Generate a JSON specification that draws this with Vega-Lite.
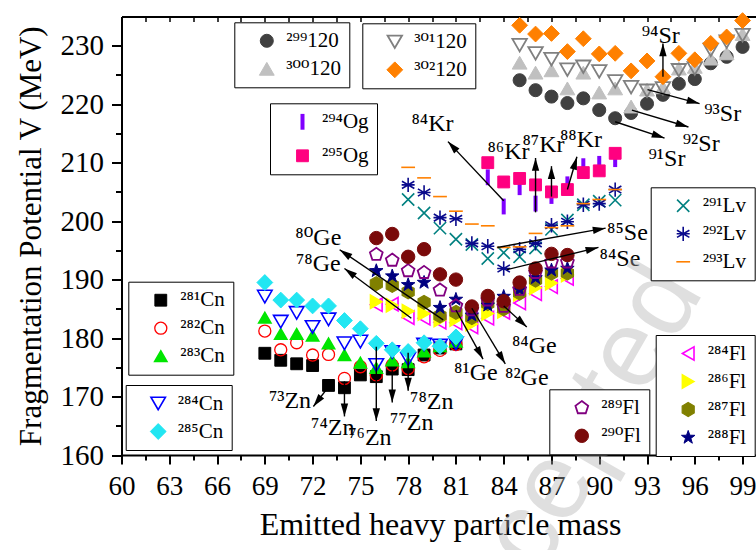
{
  "$schema": "https://vega.github.io/schema/vega-lite/v6.json",
  "width": 637,
  "height": 438.5,
  "autosize": {"type": "none"},
  "padding": {"left": 121.5, "top": 16.5, "right": 0, "bottom": 95},
  "background": "white",
  "config": {
    "font": "Liberation Serif, DejaVu Serif",
    "view": {"stroke": null},
    "legend": {
      "strokeColor": "black",
      "fillColor": "white",
      "padding": 8,
      "labelFont": "Liberation Serif, DejaVu Serif",
      "labelFontSize": 21,
      "labelColor": "black",
      "rowPadding": 6,
      "symbolOffset": 14,
      "labelOffset": 9,
      "labelLimit": 200
    }
  },
  "datasets": {
    "pts": [
      {"g":"E","s":"²⁸¹Cn","m":69,"v":177.4},{"g":"E","s":"²⁸¹Cn","m":70,"v":176.2},{"g":"E","s":"²⁸¹Cn","m":71,"v":175.6},{"g":"E","s":"²⁸¹Cn","m":72,"v":175.3},{"g":"E","s":"²⁸¹Cn","m":73,"v":171.9},{"g":"E","s":"²⁸¹Cn","m":74,"v":171.5},{"g":"E","s":"²⁸¹Cn","m":75,"v":173.7},{"g":"E","s":"²⁸¹Cn","m":76,"v":173.4},{"g":"E","s":"²⁸¹Cn","m":77,"v":174.7},{"g":"E","s":"²⁸¹Cn","m":78,"v":174.6},{"g":"E","s":"²⁸¹Cn","m":79,"v":177.1},{"g":"E","s":"²⁸¹Cn","m":80,"v":178.3},{"g":"E","s":"²⁸¹Cn","m":81,"v":179.0},
      {"g":"E","s":"²⁸²Cn","m":69,"v":181.2},{"g":"E","s":"²⁸²Cn","m":70,"v":178.0},{"g":"E","s":"²⁸²Cn","m":71,"v":179.2},{"g":"E","s":"²⁸²Cn","m":72,"v":177.1},{"g":"E","s":"²⁸²Cn","m":73,"v":177.2},{"g":"E","s":"²⁸²Cn","m":74,"v":173.1},{"g":"E","s":"²⁸²Cn","m":75,"v":175.1},{"g":"E","s":"²⁸²Cn","m":76,"v":173.7},{"g":"E","s":"²⁸²Cn","m":77,"v":175.4},{"g":"E","s":"²⁸²Cn","m":78,"v":174.8},{"g":"E","s":"²⁸²Cn","m":79,"v":176.8},{"g":"E","s":"²⁸²Cn","m":80,"v":177.9},{"g":"E","s":"²⁸²Cn","m":81,"v":178.9},
      {"g":"E","s":"²⁸³Cn","m":69,"v":183.5},{"g":"E","s":"²⁸³Cn","m":70,"v":180.7},{"g":"E","s":"²⁸³Cn","m":71,"v":180.7},{"g":"E","s":"²⁸³Cn","m":72,"v":180.4},{"g":"E","s":"²⁸³Cn","m":73,"v":179.1},{"g":"E","s":"²⁸³Cn","m":74,"v":177.1},{"g":"E","s":"²⁸³Cn","m":75,"v":175.8},{"g":"E","s":"²⁸³Cn","m":76,"v":174.9},{"g":"E","s":"²⁸³Cn","m":77,"v":176.2},{"g":"E","s":"²⁸³Cn","m":78,"v":175.9},{"g":"E","s":"²⁸³Cn","m":79,"v":177.7},{"g":"E","s":"²⁸³Cn","m":80,"v":178.6},{"g":"E","s":"²⁸³Cn","m":81,"v":179.4},
      {"g":"F","s":"²⁸⁴Cn","m":69,"v":187.1},{"g":"F","s":"²⁸⁴Cn","m":70,"v":182.8},{"g":"F","s":"²⁸⁴Cn","m":71,"v":184.3},{"g":"F","s":"²⁸⁴Cn","m":72,"v":181.9},{"g":"F","s":"²⁸⁴Cn","m":73,"v":183.2},{"g":"F","s":"²⁸⁴Cn","m":74,"v":179.1},{"g":"F","s":"²⁸⁴Cn","m":75,"v":179.4},{"g":"F","s":"²⁸⁴Cn","m":76,"v":175.4},{"g":"F","s":"²⁸⁴Cn","m":77,"v":177.6},{"g":"F","s":"²⁸⁴Cn","m":78,"v":176.4},{"g":"F","s":"²⁸⁴Cn","m":79,"v":178.9},{"g":"F","s":"²⁸⁴Cn","m":80,"v":178.7},{"g":"F","s":"²⁸⁴Cn","m":81,"v":179.1},
      {"g":"F","s":"²⁸⁵Cn","m":69,"v":189.5},{"g":"F","s":"²⁸⁵Cn","m":70,"v":186.5},{"g":"F","s":"²⁸⁵Cn","m":71,"v":186.5},{"g":"F","s":"²⁸⁵Cn","m":72,"v":185.5},{"g":"F","s":"²⁸⁵Cn","m":73,"v":185.5},{"g":"F","s":"²⁸⁵Cn","m":74,"v":183.0},{"g":"F","s":"²⁸⁵Cn","m":75,"v":181.6},{"g":"F","s":"²⁸⁵Cn","m":76,"v":179.1},{"g":"F","s":"²⁸⁵Cn","m":77,"v":178.0},{"g":"F","s":"²⁸⁵Cn","m":78,"v":177.7},{"g":"F","s":"²⁸⁵Cn","m":79,"v":179.2},{"g":"F","s":"²⁸⁵Cn","m":80,"v":178.6},{"g":"F","s":"²⁸⁵Cn","m":81,"v":180.2},
      {"g":"H","s":"²⁸⁴Fl","m":76,"v":185.7},{"g":"H","s":"²⁸⁴Fl","m":77,"v":185.8},{"g":"H","s":"²⁸⁴Fl","m":78,"v":183.5},{"g":"H","s":"²⁸⁴Fl","m":79,"v":183.4},{"g":"H","s":"²⁸⁴Fl","m":80,"v":182.7},{"g":"H","s":"²⁸⁴Fl","m":81,"v":182.6},{"g":"H","s":"²⁸⁴Fl","m":82,"v":181.9},{"g":"H","s":"²⁸⁴Fl","m":83,"v":183.4},{"g":"H","s":"²⁸⁴Fl","m":84,"v":184.4},{"g":"H","s":"²⁸⁴Fl","m":85,"v":186.0},{"g":"H","s":"²⁸⁴Fl","m":86,"v":187.6},{"g":"H","s":"²⁸⁴Fl","m":87,"v":188.8},{"g":"H","s":"²⁸⁴Fl","m":88,"v":190.2},
      {"g":"H","s":"²⁸⁶Fl","m":76,"v":186.2},{"g":"H","s":"²⁸⁶Fl","m":77,"v":185.6},{"g":"H","s":"²⁸⁶Fl","m":78,"v":184.6},{"g":"H","s":"²⁸⁶Fl","m":79,"v":184.2},{"g":"H","s":"²⁸⁶Fl","m":80,"v":183.1},{"g":"H","s":"²⁸⁶Fl","m":81,"v":183.2},{"g":"H","s":"²⁸⁶Fl","m":82,"v":182.4},{"g":"H","s":"²⁸⁶Fl","m":83,"v":184.2},{"g":"H","s":"²⁸⁶Fl","m":84,"v":184.6},{"g":"H","s":"²⁸⁶Fl","m":85,"v":187.5},{"g":"H","s":"²⁸⁶Fl","m":86,"v":188.6},{"g":"H","s":"²⁸⁶Fl","m":87,"v":189.4},{"g":"H","s":"²⁸⁶Fl","m":88,"v":190.8},
      {"g":"H","s":"²⁸⁷Fl","m":76,"v":189.3},{"g":"H","s":"²⁸⁷Fl","m":77,"v":189.0},{"g":"H","s":"²⁸⁷Fl","m":78,"v":187.9},{"g":"H","s":"²⁸⁷Fl","m":79,"v":186.1},{"g":"H","s":"²⁸⁷Fl","m":80,"v":183.8},{"g":"H","s":"²⁸⁷Fl","m":81,"v":184.4},{"g":"H","s":"²⁸⁷Fl","m":82,"v":183.5},{"g":"H","s":"²⁸⁷Fl","m":83,"v":185.9},{"g":"H","s":"²⁸⁷Fl","m":84,"v":185.0},{"g":"H","s":"²⁸⁷Fl","m":85,"v":187.7},{"g":"H","s":"²⁸⁷Fl","m":86,"v":189.9},{"g":"H","s":"²⁸⁷Fl","m":87,"v":191.1},{"g":"H","s":"²⁸⁷Fl","m":88,"v":191.1},
      {"g":"H","s":"²⁸⁸Fl","m":76,"v":191.5},{"g":"H","s":"²⁸⁸Fl","m":77,"v":190.6},{"g":"H","s":"²⁸⁸Fl","m":78,"v":189.1},{"g":"H","s":"²⁸⁸Fl","m":79,"v":189.5},{"g":"H","s":"²⁸⁸Fl","m":80,"v":185.2},{"g":"H","s":"²⁸⁸Fl","m":81,"v":186.6},{"g":"H","s":"²⁸⁸Fl","m":82,"v":183.9},{"g":"H","s":"²⁸⁸Fl","m":83,"v":185.6},{"g":"H","s":"²⁸⁸Fl","m":84,"v":187.1},{"g":"H","s":"²⁸⁸Fl","m":85,"v":188.3},{"g":"H","s":"²⁸⁸Fl","m":86,"v":190.3},{"g":"H","s":"²⁸⁸Fl","m":87,"v":191.6},{"g":"H","s":"²⁸⁸Fl","m":88,"v":191.9},
      {"g":"G","s":"²⁸⁹Fl","m":76,"v":194.3},{"g":"G","s":"²⁸⁹Fl","m":77,"v":193.3},{"g":"G","s":"²⁸⁹Fl","m":78,"v":191.5},{"g":"G","s":"²⁸⁹Fl","m":79,"v":191.2},{"g":"G","s":"²⁸⁹Fl","m":80,"v":188.2},{"g":"G","s":"²⁸⁹Fl","m":81,"v":185.5},{"g":"G","s":"²⁸⁹Fl","m":82,"v":184.8},{"g":"G","s":"²⁸⁹Fl","m":83,"v":186.5},{"g":"G","s":"²⁸⁹Fl","m":84,"v":185.4},{"g":"G","s":"²⁸⁹Fl","m":85,"v":188.3},{"g":"G","s":"²⁸⁹Fl","m":86,"v":191.2},{"g":"G","s":"²⁸⁹Fl","m":87,"v":193.0},{"g":"G","s":"²⁸⁹Fl","m":88,"v":193.0},
      {"g":"G","s":"²⁹⁰Fl","m":76,"v":197.1},{"g":"G","s":"²⁹⁰Fl","m":77,"v":197.8},{"g":"G","s":"²⁹⁰Fl","m":78,"v":193.9},{"g":"G","s":"²⁹⁰Fl","m":79,"v":195.2},{"g":"G","s":"²⁹⁰Fl","m":80,"v":190.9},{"g":"G","s":"²⁹⁰Fl","m":81,"v":190.0},{"g":"G","s":"²⁹⁰Fl","m":82,"v":185.4},{"g":"G","s":"²⁹⁰Fl","m":83,"v":187.2},{"g":"G","s":"²⁹⁰Fl","m":84,"v":186.3},{"g":"G","s":"²⁹⁰Fl","m":85,"v":189.5},{"g":"G","s":"²⁹⁰Fl","m":86,"v":191.9},{"g":"G","s":"²⁹⁰Fl","m":87,"v":194.4},{"g":"G","s":"²⁹⁰Fl","m":88,"v":194.2},
      {"g":"D","s":"²⁹¹Lv","m":78,"v":203.7},{"g":"D","s":"²⁹¹Lv","m":79,"v":201.4},{"g":"D","s":"²⁹¹Lv","m":80,"v":198.8},{"g":"D","s":"²⁹¹Lv","m":81,"v":196.9},{"g":"D","s":"²⁹¹Lv","m":82,"v":196.0},{"g":"D","s":"²⁹¹Lv","m":83,"v":193.6},{"g":"D","s":"²⁹¹Lv","m":84,"v":194.6},{"g":"D","s":"²⁹¹Lv","m":85,"v":193.9},{"g":"D","s":"²⁹¹Lv","m":86,"v":195.4},{"g":"D","s":"²⁹¹Lv","m":87,"v":198.6},{"g":"D","s":"²⁹¹Lv","m":88,"v":200.2},{"g":"D","s":"²⁹¹Lv","m":89,"v":202.8},{"g":"D","s":"²⁹¹Lv","m":90,"v":203.4},{"g":"D","s":"²⁹¹Lv","m":91,"v":203.6},
      {"g":"D","s":"²⁹²Lv","m":78,"v":206.2},{"g":"D","s":"²⁹²Lv","m":79,"v":204.9},{"g":"D","s":"²⁹²Lv","m":80,"v":200.6},{"g":"D","s":"²⁹²Lv","m":81,"v":200.4},{"g":"D","s":"²⁹²Lv","m":82,"v":196.2},{"g":"D","s":"²⁹²Lv","m":83,"v":195.7},{"g":"D","s":"²⁹²Lv","m":84,"v":191.9},{"g":"D","s":"²⁹²Lv","m":85,"v":195.2},{"g":"D","s":"²⁹²Lv","m":86,"v":196.2},{"g":"D","s":"²⁹²Lv","m":87,"v":199.3},{"g":"D","s":"²⁹²Lv","m":88,"v":199.9},{"g":"D","s":"²⁹²Lv","m":89,"v":202.8},{"g":"D","s":"²⁹²Lv","m":90,"v":203.0},{"g":"D","s":"²⁹²Lv","m":91,"v":205.4},
      {"g":"D","s":"²⁹³Lv","m":78,"v":209.2},{"g":"D","s":"²⁹³Lv","m":79,"v":207.4},{"g":"D","s":"²⁹³Lv","m":80,"v":204.2},{"g":"D","s":"²⁹³Lv","m":81,"v":201.7},{"g":"D","s":"²⁹³Lv","m":82,"v":199.5},{"g":"D","s":"²⁹³Lv","m":83,"v":199.2},{"g":"D","s":"²⁹³Lv","m":84,"v":195.5},{"g":"D","s":"²⁹³Lv","m":85,"v":195.6},{"g":"D","s":"²⁹³Lv","m":86,"v":197.9},{"g":"D","s":"²⁹³Lv","m":87,"v":198.9},{"g":"D","s":"²⁹³Lv","m":88,"v":199.2},{"g":"D","s":"²⁹³Lv","m":89,"v":203.0},{"g":"D","s":"²⁹³Lv","m":90,"v":203.7},{"g":"D","s":"²⁹³Lv","m":91,"v":205.4},
      {"g":"C","s":"²⁹⁴Og","m":83,"v":207.5},{"g":"C","s":"²⁹⁴Og","m":84,"v":202.5},{"g":"C","s":"²⁹⁴Og","m":85,"v":205.8},{"g":"C","s":"²⁹⁴Og","m":86,"v":203.0},{"g":"C","s":"²⁹⁴Og","m":87,"v":204.3},{"g":"C","s":"²⁹⁴Og","m":88,"v":206.3},{"g":"C","s":"²⁹⁴Og","m":89,"v":209.4},{"g":"C","s":"²⁹⁴Og","m":90,"v":209.8},{"g":"C","s":"²⁹⁴Og","m":91,"v":210.6},
      {"g":"C","s":"²⁹⁵Og","m":83,"v":210.0},{"g":"C","s":"²⁹⁵Og","m":84,"v":206.7},{"g":"C","s":"²⁹⁵Og","m":85,"v":207.3},{"g":"C","s":"²⁹⁵Og","m":86,"v":206.2},{"g":"C","s":"²⁹⁵Og","m":87,"v":205.0},{"g":"C","s":"²⁹⁵Og","m":88,"v":205.4},{"g":"C","s":"²⁹⁵Og","m":89,"v":208.3},{"g":"C","s":"²⁹⁵Og","m":90,"v":208.6},{"g":"C","s":"²⁹⁵Og","m":91,"v":211.6},
      {"g":"A","s":"²⁹⁹120","m":85,"v":224.1},{"g":"A","s":"²⁹⁹120","m":86,"v":222.4},{"g":"A","s":"²⁹⁹120","m":87,"v":221.3},{"g":"A","s":"²⁹⁹120","m":88,"v":220.2},{"g":"A","s":"²⁹⁹120","m":89,"v":221.0},{"g":"A","s":"²⁹⁹120","m":90,"v":219.0},{"g":"A","s":"²⁹⁹120","m":91,"v":217.6},{"g":"A","s":"²⁹⁹120","m":92,"v":218.5},{"g":"A","s":"²⁹⁹120","m":93,"v":220.1},{"g":"A","s":"²⁹⁹120","m":94,"v":221.6},{"g":"A","s":"²⁹⁹120","m":95,"v":223.5},{"g":"A","s":"²⁹⁹120","m":96,"v":224.3},{"g":"A","s":"²⁹⁹120","m":97,"v":227.0},{"g":"A","s":"²⁹⁹120","m":98,"v":228.1},{"g":"A","s":"²⁹⁹120","m":99,"v":229.8},
      {"g":"A","s":"³⁰⁰120","m":85,"v":227.1},{"g":"A","s":"³⁰⁰120","m":86,"v":225.4},{"g":"A","s":"³⁰⁰120","m":87,"v":225.8},{"g":"A","s":"³⁰⁰120","m":88,"v":222.7},{"g":"A","s":"³⁰⁰120","m":89,"v":225.4},{"g":"A","s":"³⁰⁰120","m":90,"v":222.0},{"g":"A","s":"³⁰⁰120","m":91,"v":222.7},{"g":"A","s":"³⁰⁰120","m":92,"v":219.6},{"g":"A","s":"³⁰⁰120","m":93,"v":222.5},{"g":"A","s":"³⁰⁰120","m":94,"v":222.9},{"g":"A","s":"³⁰⁰120","m":95,"v":226.1},{"g":"A","s":"³⁰⁰120","m":96,"v":226.4},{"g":"A","s":"³⁰⁰120","m":97,"v":227.8},{"g":"A","s":"³⁰⁰120","m":98,"v":228.7},{"g":"A","s":"³⁰⁰120","m":99,"v":232.0},
      {"g":"B","s":"³⁰¹120","m":85,"v":230.1},{"g":"B","s":"³⁰¹120","m":86,"v":228.7},{"g":"B","s":"³⁰¹120","m":87,"v":227.7},{"g":"B","s":"³⁰¹120","m":88,"v":225.9},{"g":"B","s":"³⁰¹120","m":89,"v":226.4},{"g":"B","s":"³⁰¹120","m":90,"v":225.6},{"g":"B","s":"³⁰¹120","m":91,"v":223.9},{"g":"B","s":"³⁰¹120","m":92,"v":222.9},{"g":"B","s":"³⁰¹120","m":93,"v":222.3},{"g":"B","s":"³⁰¹120","m":94,"v":222.7},{"g":"B","s":"³⁰¹120","m":95,"v":225.8},{"g":"B","s":"³⁰¹120","m":96,"v":226.1},{"g":"B","s":"³⁰¹120","m":97,"v":229.3},{"g":"B","s":"³⁰¹120","m":98,"v":230.7},{"g":"B","s":"³⁰¹120","m":99,"v":231.8},
      {"g":"B","s":"³⁰²120","m":85,"v":233.5},{"g":"B","s":"³⁰²120","m":86,"v":232.0},{"g":"B","s":"³⁰²120","m":87,"v":232.1},{"g":"B","s":"³⁰²120","m":88,"v":229.0},{"g":"B","s":"³⁰²120","m":89,"v":231.2},{"g":"B","s":"³⁰²120","m":90,"v":228.6},{"g":"B","s":"³⁰²120","m":91,"v":228.7},{"g":"B","s":"³⁰²120","m":92,"v":225.7},{"g":"B","s":"³⁰²120","m":93,"v":227.4},{"g":"B","s":"³⁰²120","m":94,"v":224.7},{"g":"B","s":"³⁰²120","m":95,"v":228.7},{"g":"B","s":"³⁰²120","m":96,"v":227.6},{"g":"B","s":"³⁰²120","m":97,"v":230.4},{"g":"B","s":"³⁰²120","m":98,"v":231.5},{"g":"B","s":"³⁰²120","m":99,"v":234.3}
    ],
    "arrows": [
      {"m":72.05,"v":168.3,"m0":72.9,"v0":171.3},
      {"m":74,"v":166.6,"m0":74,"v0":172.6},
      {"m":76,"v":165.8,"m0":76,"v0":178.5},
      {"m":77,"v":169.0,"m0":77,"v0":174.5},
      {"m":78,"v":171.0,"m0":78,"v0":177.5},
      {"m":74.0,"v":191.9,"m0":78.2,"v0":183.4},
      {"m":73.7,"v":195.1,"m0":80.2,"v0":183.1},
      {"m":82.7,"v":176.4,"m0":81,"v0":184.8},
      {"m":84.1,"v":175.6,"m0":82,"v0":185.1},
      {"m":85.45,"v":181.9,"m0":84,"v0":185.5},
      {"m":80.5,"v":213.6,"m0":84,"v0":203.5},
      {"m":86,"v":210.8,"m0":86,"v0":201.5},
      {"m":87,"v":209.4,"m0":87,"v0":204.2},
      {"m":88.6,"v":211.0,"m0":88,"v0":205.4},
      {"m":89.95,"v":195.5,"m0":84.2,"v0":191.7},
      {"m":90.4,"v":198.8,"m0":83.6,"v0":195.5},
      {"m":94.1,"v":214.2,"m0":91,"v0":217.0},
      {"m":95.6,"v":216.1,"m0":92.05,"v0":219.0},
      {"m":96.3,"v":220.1,"m0":93.03,"v0":222.5},
      {"m":94,"v":230.4,"m0":94,"v0":224.7}
    ],
    "labels": [
      {"t":"⁷³Zn","m":70.58,"v":169.3},
      {"t":"⁷⁴Zn","m":73.27,"v":164.6},
      {"t":"⁷⁶Zn","m":75.6,"v":162.9},
      {"t":"⁷⁷Zn","m":78.23,"v":165.4},
      {"t":"⁷⁸Zn","m":79.48,"v":169.1},
      {"t":"⁷⁸Ge","m":72.36,"v":192.7},
      {"t":"⁸⁰Ge","m":72.36,"v":197.2},
      {"t":"⁸¹Ge","m":82.25,"v":174.0},
      {"t":"⁸²Ge","m":85.45,"v":173.1},
      {"t":"⁸⁴Ge","m":85.92,"v":178.7},
      {"t":"⁸⁴Kr","m":79.53,"v":216.6},
      {"t":"⁸⁶Kr","m":84.3,"v":211.9},
      {"t":"⁸⁷Kr","m":86.5,"v":213.0},
      {"t":"⁸⁸Kr","m":88.85,"v":213.9},
      {"t":"⁸⁴Se","m":91.3,"v":193.5},
      {"t":"⁸⁵Se","m":91.77,"v":198.05},
      {"t":"⁹¹Sr","m":94.25,"v":210.7},
      {"t":"⁹²Sr","m":96.4,"v":213.2},
      {"t":"⁹³Sr","m":97.75,"v":218.4},
      {"t":"⁹⁴Sr","m":93.86,"v":231.7}
    ],
    "wm": [{"t":"Accepted","m":96.6,"v":188.0}]
  },
  "encoding": {
    "x": {"field": "m", "type": "quantitative", "scale": {"domain": [60, 100], "nice": false, "zero": false}, "axis": null},
    "y": {"field": "v", "type": "quantitative", "scale": {"domain": [160, 235], "nice": false, "zero": false}, "axis": null}
  },
  "layer": [
    {
      "data": {"name": "pts"},
      "transform": [{"filter": "datum.g == 'E'"}],
      "mark": {"type": "point", "opacity": 1},
      "encoding": {
        "shape": {"field": "s", "type": "nominal", "title": null, "scale": {"domain": ["²⁸¹Cn","²⁸²Cn","²⁸³Cn"], "range": ["square","circle","triangle-up"]}, "legend": {"orient": "none", "legendX": 6.8, "legendY": 265.2}},
        "fill": {"field": "s", "type": "nominal", "title": null, "scale": {"domain": ["²⁸¹Cn","²⁸²Cn","²⁸³Cn"], "range": ["#000000","transparent","#00e600"]}, "legend": {"orient": "none", "legendX": 6.8, "legendY": 265.2}},
        "stroke": {"field": "s", "type": "nominal", "title": null, "scale": {"domain": ["²⁸¹Cn","²⁸²Cn","²⁸³Cn"], "range": ["#000000","#ff0000","#00e600"]}, "legend": {"orient": "none", "legendX": 6.8, "legendY": 265.2}},
        "size": {"field": "s", "type": "nominal", "title": null, "scale": {"domain": ["²⁸¹Cn","²⁸²Cn","²⁸³Cn"], "range": [140, 150, 220]}, "legend": {"orient": "none", "legendX": 6.8, "legendY": 265.2}},
        "strokeWidth": {"field": "s", "type": "nominal", "title": null, "scale": {"domain": ["²⁸¹Cn","²⁸²Cn","²⁸³Cn"], "range": [1, 1.6, 1]}, "legend": {"orient": "none", "legendX": 6.8, "legendY": 265.2}}
      }
    },
    {
      "data": {"name": "pts"},
      "transform": [{"filter": "datum.g == 'F'"}],
      "mark": {"type": "point", "opacity": 1},
      "encoding": {
        "shape": {"field": "s", "type": "nominal", "title": null, "scale": {"domain": ["²⁸⁴Cn","²⁸⁵Cn"], "range": ["triangle-down","diamond"]}, "legend": {"orient": "none", "legendX": 4.2, "legendY": 368.5}},
        "fill": {"field": "s", "type": "nominal", "title": null, "scale": {"domain": ["²⁸⁴Cn","²⁸⁵Cn"], "range": ["transparent","#22e6f2"]}, "legend": {"orient": "none", "legendX": 4.2, "legendY": 368.5}},
        "stroke": {"field": "s", "type": "nominal", "title": null, "scale": {"domain": ["²⁸⁴Cn","²⁸⁵Cn"], "range": ["#0000ff","#22e6f2"]}, "legend": {"orient": "none", "legendX": 4.2, "legendY": 368.5}},
        "size": {"field": "s", "type": "nominal", "title": null, "scale": {"domain": ["²⁸⁴Cn","²⁸⁵Cn"], "range": [210, 250]}, "legend": {"orient": "none", "legendX": 4.2, "legendY": 368.5}},
        "strokeWidth": {"field": "s", "type": "nominal", "title": null, "scale": {"domain": ["²⁸⁴Cn","²⁸⁵Cn"], "range": [1.6, 1]}, "legend": {"orient": "none", "legendX": 4.2, "legendY": 368.5}}
      }
    },
    {
      "data": {"name": "pts"},
      "transform": [{"filter": "datum.g == 'H'"}],
      "mark": {"type": "point", "opacity": 1},
      "encoding": {
        "shape": {"field": "s", "type": "nominal", "title": null, "scale": {"domain": ["²⁸⁴Fl","²⁸⁶Fl","²⁸⁷Fl","²⁸⁸Fl"], "range": ["triangle-left","triangle-right","M0,-1L0.866,-0.5L0.866,0.5L0,1L-0.866,0.5L-0.866,-0.5Z","M0,-1L0.235,-0.324L0.951,-0.309L0.38,0.124L0.588,0.809L0,0.4L-0.588,0.809L-0.38,0.124L-0.951,-0.309L-0.235,-0.324Z"]}, "legend": {"orient": "none", "legendX": 534.2, "legendY": 318.5}},
        "fill": {"field": "s", "type": "nominal", "title": null, "scale": {"domain": ["²⁸⁴Fl","²⁸⁶Fl","²⁸⁷Fl","²⁸⁸Fl"], "range": ["transparent","#ffff00","#808000","#000080"]}, "legend": {"orient": "none", "legendX": 534.2, "legendY": 318.5}},
        "stroke": {"field": "s", "type": "nominal", "title": null, "scale": {"domain": ["²⁸⁴Fl","²⁸⁶Fl","²⁸⁷Fl","²⁸⁸Fl"], "range": ["#ff00ff","#ffff00","#808000","#000080"]}, "legend": {"orient": "none", "legendX": 534.2, "legendY": 318.5}},
        "size": {"field": "s", "type": "nominal", "title": null, "scale": {"domain": ["²⁸⁴Fl","²⁸⁶Fl","²⁸⁷Fl","²⁸⁸Fl"], "range": [180, 200, 210, 220]}, "legend": {"orient": "none", "legendX": 534.2, "legendY": 318.5}},
        "strokeWidth": {"field": "s", "type": "nominal", "title": null, "scale": {"domain": ["²⁸⁴Fl","²⁸⁶Fl","²⁸⁷Fl","²⁸⁸Fl"], "range": [1.6, 1, 1, 1]}, "legend": {"orient": "none", "legendX": 534.2, "legendY": 318.5}}
      }
    },
    {
      "data": {"name": "pts"},
      "transform": [{"filter": "datum.g == 'G'"}],
      "mark": {"type": "point", "opacity": 1},
      "encoding": {
        "shape": {"field": "s", "type": "nominal", "title": null, "scale": {"domain": ["²⁸⁹Fl","²⁹⁰Fl"], "range": ["M0,-1L0.951,-0.309L0.588,0.809L-0.588,0.809L-0.951,-0.309Z","circle"]}, "legend": {"orient": "none", "legendX": 427.8, "legendY": 372.8}},
        "fill": {"field": "s", "type": "nominal", "title": null, "scale": {"domain": ["²⁸⁹Fl","²⁹⁰Fl"], "range": ["transparent","#7a0a0a"]}, "legend": {"orient": "none", "legendX": 427.8, "legendY": 372.8}},
        "stroke": {"field": "s", "type": "nominal", "title": null, "scale": {"domain": ["²⁸⁹Fl","²⁹⁰Fl"], "range": ["#800080","#7a0a0a"]}, "legend": {"orient": "none", "legendX": 427.8, "legendY": 372.8}},
        "size": {"field": "s", "type": "nominal", "title": null, "scale": {"domain": ["²⁸⁹Fl","²⁹⁰Fl"], "range": [180, 180]}, "legend": {"orient": "none", "legendX": 427.8, "legendY": 372.8}},
        "strokeWidth": {"field": "s", "type": "nominal", "title": null, "scale": {"domain": ["²⁸⁹Fl","²⁹⁰Fl"], "range": [1.8, 1]}, "legend": {"orient": "none", "legendX": 427.8, "legendY": 372.8}}
      }
    },
    {
      "data": {"name": "pts"},
      "transform": [{"filter": "datum.g == 'D'"}],
      "mark": {"type": "point", "opacity": 1},
      "encoding": {
        "shape": {"field": "s", "type": "nominal", "title": null, "scale": {"domain": ["²⁹¹Lv","²⁹²Lv","²⁹³Lv"], "range": ["M-1,-1L1,1M-1,1L1,-1","M0,-1.1L0,1.1M-0.95,-0.55L0.95,0.55M-0.95,0.55L0.95,-0.55M-1,0L1,0","M-1,0L1,0"]}, "legend": {"orient": "none", "legendX": 529.2, "legendY": 170.8}},
        "fill": {"field": "s", "type": "nominal", "title": null, "scale": {"domain": ["²⁹¹Lv","²⁹²Lv","²⁹³Lv"], "range": ["transparent","transparent","transparent"]}, "legend": {"orient": "none", "legendX": 529.2, "legendY": 170.8}},
        "stroke": {"field": "s", "type": "nominal", "title": null, "scale": {"domain": ["²⁹¹Lv","²⁹²Lv","²⁹³Lv"], "range": ["#008080","#0a0a8c","#ff8000"]}, "legend": {"orient": "none", "legendX": 529.2, "legendY": 170.8}},
        "size": {"field": "s", "type": "nominal", "title": null, "scale": {"domain": ["²⁹¹Lv","²⁹²Lv","²⁹³Lv"], "range": [150, 190, 180]}, "legend": {"orient": "none", "legendX": 529.2, "legendY": 170.8}},
        "strokeWidth": {"field": "s", "type": "nominal", "title": null, "scale": {"domain": ["²⁹¹Lv","²⁹²Lv","²⁹³Lv"], "range": [1.6, 1.6, 3]}, "legend": {"orient": "none", "legendX": 529.2, "legendY": 170.8}}
      }
    },
    {
      "data": {"name": "pts"},
      "transform": [{"filter": "datum.g == 'C'"}],
      "mark": {"type": "point", "opacity": 1},
      "encoding": {
        "shape": {"field": "s", "type": "nominal", "title": null, "scale": {"domain": ["²⁹⁴Og","²⁹⁵Og"], "range": ["M0,-1L0,1","square"]}, "legend": {"orient": "none", "legendX": 148.5, "legendY": 86.8}},
        "fill": {"field": "s", "type": "nominal", "title": null, "scale": {"domain": ["²⁹⁴Og","²⁹⁵Og"], "range": ["transparent","#ff0080"]}, "legend": {"orient": "none", "legendX": 148.5, "legendY": 86.8}},
        "stroke": {"field": "s", "type": "nominal", "title": null, "scale": {"domain": ["²⁹⁴Og","²⁹⁵Og"], "range": ["#8000ff","#ff0080"]}, "legend": {"orient": "none", "legendX": 148.5, "legendY": 86.8}},
        "size": {"field": "s", "type": "nominal", "title": null, "scale": {"domain": ["²⁹⁴Og","²⁹⁵Og"], "range": [250, 140]}, "legend": {"orient": "none", "legendX": 148.5, "legendY": 86.8}},
        "strokeWidth": {"field": "s", "type": "nominal", "title": null, "scale": {"domain": ["²⁹⁴Og","²⁹⁵Og"], "range": [4, 1]}, "legend": {"orient": "none", "legendX": 148.5, "legendY": 86.8}}
      }
    },
    {
      "data": {"name": "pts"},
      "transform": [{"filter": "datum.g == 'A'"}],
      "mark": {"type": "point", "opacity": 1},
      "encoding": {
        "shape": {"field": "s", "type": "nominal", "title": null, "scale": {"domain": ["²⁹⁹120","³⁰⁰120"], "range": ["circle","triangle-up"]}, "legend": {"orient": "none", "legendX": 112.8, "legendY": 5.8}},
        "fill": {"field": "s", "type": "nominal", "title": null, "scale": {"domain": ["²⁹⁹120","³⁰⁰120"], "range": ["#404040","#c0c0c0"]}, "legend": {"orient": "none", "legendX": 112.8, "legendY": 5.8}},
        "stroke": {"field": "s", "type": "nominal", "title": null, "scale": {"domain": ["²⁹⁹120","³⁰⁰120"], "range": ["#404040","#c0c0c0"]}, "legend": {"orient": "none", "legendX": 112.8, "legendY": 5.8}},
        "size": {"field": "s", "type": "nominal", "title": null, "scale": {"domain": ["²⁹⁹120","³⁰⁰120"], "range": [170, 220]}, "legend": {"orient": "none", "legendX": 112.8, "legendY": 5.8}},
        "strokeWidth": {"field": "s", "type": "nominal", "title": null, "scale": {"domain": ["²⁹⁹120","³⁰⁰120"], "range": [1, 1]}, "legend": {"orient": "none", "legendX": 112.8, "legendY": 5.8}}
      }
    },
    {
      "data": {"name": "pts"},
      "transform": [{"filter": "datum.g == 'B'"}],
      "mark": {"type": "point", "opacity": 1},
      "encoding": {
        "shape": {"field": "s", "type": "nominal", "title": null, "scale": {"domain": ["³⁰¹120","³⁰²120"], "range": ["triangle-down","diamond"]}, "legend": {"orient": "none", "legendX": 240.8, "legendY": 6.8}},
        "fill": {"field": "s", "type": "nominal", "title": null, "scale": {"domain": ["³⁰¹120","³⁰²120"], "range": ["transparent","#ff8000"]}, "legend": {"orient": "none", "legendX": 240.8, "legendY": 6.8}},
        "stroke": {"field": "s", "type": "nominal", "title": null, "scale": {"domain": ["³⁰¹120","³⁰²120"], "range": ["#808080","#ff8000"]}, "legend": {"orient": "none", "legendX": 240.8, "legendY": 6.8}},
        "size": {"field": "s", "type": "nominal", "title": null, "scale": {"domain": ["³⁰¹120","³⁰²120"], "range": [210, 250]}, "legend": {"orient": "none", "legendX": 240.8, "legendY": 6.8}},
        "strokeWidth": {"field": "s", "type": "nominal", "title": null, "scale": {"domain": ["³⁰¹120","³⁰²120"], "range": [1.8, 1]}, "legend": {"orient": "none", "legendX": 240.8, "legendY": 6.8}}
      }
    },
    {
      "data": {"name": "arrows"},
      "mark": {"type": "rule", "color": "black", "strokeWidth": 1.4},
      "encoding": {
        "x": {"field": "m", "type": "quantitative", "scale": {"domain": [60, 100], "nice": false, "zero": false},
          "axis": {"orient": "top", "values": [60,61.5,63,64.5,66,67.5,69,70.5,72,73.5,75,76.5,78,79.5,81,82.5,84,85.5,87,88.5,90,91.5,93,94.5,96,97.5,99], "labels": false, "tickSize": -5, "tickWidth": 1.5, "tickColor": "black", "domainColor": "black", "domainWidth": 2, "title": null, "grid": false}},
        "y": {"field": "v", "type": "quantitative", "scale": {"domain": [160, 235], "nice": false, "zero": false},
          "axis": {"orient": "left", "values": [165,175,185,195,205,215,225], "labels": false, "tickSize": 6, "tickWidth": 2, "tickColor": "black", "domainColor": "black", "domainWidth": 2, "title": null, "grid": false}},
        "x2": {"field": "m0"},
        "y2": {"field": "v0"}
      }
    },
    {
      "data": {"name": "arrows"},
      "transform": [{"calculate": "atan2((datum.m - datum.m0) * 15.92, (datum.v - datum.v0) * 5.847) * 180 / PI", "as": "ang"}],
      "mark": {"type": "point", "filled": true, "opacity": 1, "fill": "black", "strokeWidth": 0, "size": 150, "shape": "M0,0L-0.6,2.1L0.6,2.1Z"},
      "encoding": {
        "x": {"field": "m", "type": "quantitative", "scale": {"domain": [60, 100], "nice": false, "zero": false},
          "axis": {"orient": "bottom", "values": [61.5,64.5,67.5,70.5,73.5,76.5,79.5,82.5,85.5,88.5,91.5,94.5,97.5], "labels": false, "tickSize": 5, "tickWidth": 2, "tickColor": "black", "domain": false, "title": null, "grid": false}},
        "angle": {"field": "ang", "type": "quantitative", "scale": null}
      }
    },
    {
      "data": {"name": "labels"},
      "mark": {"type": "text", "font": "Liberation Serif, DejaVu Serif", "fontSize": 24, "color": "black", "align": "center", "baseline": "middle"},
      "encoding": {
        "x": {"field": "m", "type": "quantitative", "scale": {"domain": [60, 100], "nice": false, "zero": false},
          "axis": {"orient": "bottom", "values": [60,63,66,69,72,75,78,81,84,87,90,93,96,99],
            "tickSize": 9,
            "tickWidth": 2, "tickColor": "black", "domainColor": "black", "domainWidth": 2,
            "labelFont": "Liberation Serif", "labelFontSize": 27, "labelColor": "black", "labelPadding": 9,
            "labelOverlap": false, "labelFlush": false, "grid": false,
            "title": "Emitted heavy particle mass", "titleFont": "Liberation Serif", "titleFontSize": 32,
            "titleFontWeight": "normal", "titleColor": "black", "titlePadding": 10}},
        "y": {"field": "v", "type": "quantitative", "scale": {"domain": [160, 235], "nice": false, "zero": false},
          "axis": {
            "orient": "left",
            "values": [160,170,180,190,200,210,220,230],
            "tickSize": 10,
            "tickWidth": 2, "tickColor": "black", "domainColor": "black", "domainWidth": 2,
            "labelFont": "Liberation Serif", "labelFontSize": 29, "labelColor": "black", "labelPadding": 8,
            "labelOverlap": false, "labelFlush": false, "grid": false,
            "title": "Fragmentation Potential V (MeV)", "titleFont": "Liberation Serif", "titleFontSize": 31,
            "titleFontWeight": "normal", "titleColor": "black", "titlePadding": 13
          }},
        "text": {"field": "t"}
      }
    },
    {
      "data": {"name": "wm"},
      "mark": {"type": "text", "font": "Liberation Sans", "fontSize": 110, "color": "#b0b0b0", "opacity": 0.4, "align": "right", "baseline": "alphabetic", "angle": -60},
      "encoding": {"text": {"field": "t"}}
    }
  ],
  "resolve": {
    "scale": {"shape": "independent", "fill": "independent", "stroke": "independent", "size": "independent", "strokeWidth": "independent"},
    "axis": {"x": "independent", "y": "independent"}
  }
}
